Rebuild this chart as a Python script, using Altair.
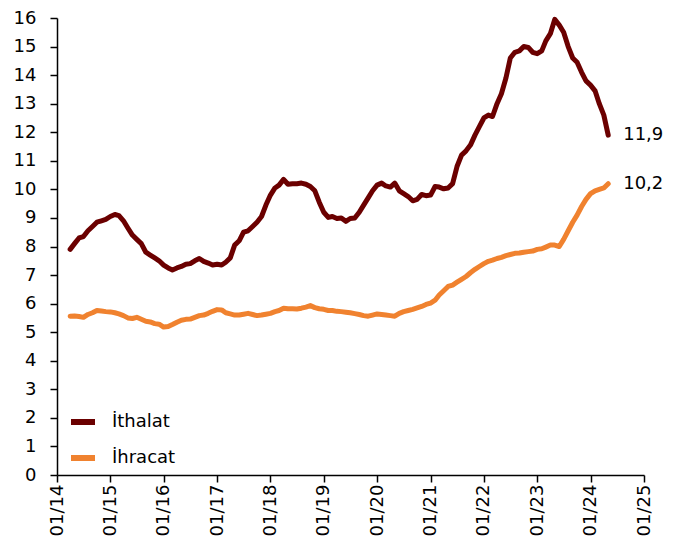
import altair as alt
import pandas as pd

start_month = "2014-04-01"

ithalat = [
    7.9, 8.1, 8.3, 8.35, 8.55, 8.7, 8.85, 8.9, 8.95,
    9.05, 9.12, 9.08, 8.9, 8.65, 8.4, 8.25, 8.1, 7.8, 7.7, 7.6, 7.5,
    7.35, 7.25, 7.18, 7.25, 7.3, 7.38, 7.4, 7.5, 7.58, 7.48, 7.42, 7.35,
    7.38, 7.35, 7.45, 7.6, 8.05, 8.2, 8.5, 8.55, 8.7, 8.85, 9.05, 9.45,
    9.8, 10.05, 10.15, 10.35, 10.18, 10.2, 10.2, 10.22, 10.18, 10.1, 9.95, 9.55,
    9.2, 9.02, 9.05, 8.98, 9.0, 8.88, 8.98, 9.0, 9.2, 9.45, 9.7, 9.95,
    10.15, 10.22, 10.12, 10.08, 10.22, 9.95, 9.85, 9.75, 9.6, 9.65, 9.82, 9.78,
    9.8, 10.1, 10.08, 10.02, 10.05, 10.2, 10.8, 11.2, 11.35, 11.55, 11.9, 12.2,
    12.5, 12.6, 12.55, 13.0, 13.35, 13.9, 14.6, 14.8, 14.85, 15.0, 14.97, 14.8,
    14.75, 14.85, 15.2, 15.45, 15.95, 15.75, 15.5, 15.0, 14.6, 14.45, 14.1, 13.8,
    13.65, 13.45, 13.0, 12.6, 11.9,
]

ihracat = [
    5.56, 5.57, 5.55, 5.52, 5.62, 5.68, 5.76, 5.74, 5.72,
    5.71, 5.68, 5.64, 5.58, 5.5, 5.48, 5.52, 5.45, 5.38, 5.36, 5.3, 5.28,
    5.18, 5.2, 5.27, 5.35, 5.42, 5.45, 5.46, 5.52, 5.58, 5.6, 5.66, 5.73,
    5.79, 5.78, 5.68, 5.64, 5.6, 5.6, 5.63, 5.66, 5.62, 5.58, 5.6, 5.63,
    5.66, 5.72, 5.76, 5.84, 5.82, 5.82, 5.81, 5.84, 5.88, 5.93, 5.86, 5.82,
    5.8, 5.76, 5.76, 5.73, 5.72, 5.7, 5.68, 5.65, 5.62, 5.58, 5.56, 5.6,
    5.64, 5.62, 5.6, 5.58, 5.56, 5.66, 5.72, 5.76, 5.8, 5.85, 5.9, 5.97,
    6.02, 6.12, 6.3, 6.45, 6.6, 6.65, 6.75, 6.85, 6.95, 7.08, 7.2, 7.3,
    7.4, 7.48, 7.52, 7.58, 7.62, 7.68, 7.72, 7.76, 7.77, 7.8, 7.82, 7.84,
    7.9, 7.92, 7.98, 8.05, 8.05, 8.0, 8.25, 8.55, 8.85, 9.1, 9.4, 9.65,
    9.85, 9.95, 10.0, 10.05, 10.2,
]

series_names = ["İthalat", "İhracat"]
series_colors = ["#6B0000", "#F0822F"]
end_labels = ["11,9", "10,2"]
year_ticks = list(range(2014, 2026))
y_ticks = list(range(0, 17))

dates = pd.date_range(start_month, periods=len(ithalat), freq="MS").strftime("%Y-%m-%dT00:00:00")

df = pd.concat([
    pd.DataFrame({"date": dates, "value": ithalat, "series": series_names[0]}),
    pd.DataFrame({"date": dates, "value": ihracat, "series": series_names[1]}),
], ignore_index=True)

last = pd.DataFrame({
    "date": [dates[-1], dates[-1]],
    "value": [ithalat[-1], ihracat[-1]],
    "series": series_names,
    "label": end_labels,
})

FONT = "DejaVu Sans"

x_enc = alt.X(
    "date:T",
    scale=alt.Scale(domain=[alt.DateTime(year=2014, month=1, date=1),
                            alt.DateTime(year=2025, month=1, date=1)]),
    axis=alt.Axis(
        values=[alt.DateTime(year=y, month=1, date=1) for y in year_ticks],
        tickCount=30,
        format="%m/%y", labelAngle=270, title=None, grid=False,
        tickSize=7, labelPadding=2, labelOverlap=False,
    ),
)
y_enc = alt.Y(
    "value:Q",
    scale=alt.Scale(domain=[0, 16], nice=False),
    axis=alt.Axis(values=y_ticks, tickCount=40, format="d", title=None, grid=False,
                  tickSize=7, labelPadding=14, labelOverlap=False),
)

color_enc = alt.Color(
    "series:N",
    scale=alt.Scale(domain=series_names, range=series_colors),
    legend=alt.Legend(
        title=None, orient="none", legendX=11, legendY=389,
        symbolType="stroke", symbolStrokeWidth=6, symbolSize=576,
        labelFontSize=18, labelFont=FONT, labelColor="#000000",
        rowPadding=9, labelOffset=14, padding=0,
    ),
)

lines = alt.Chart(df).mark_line(strokeWidth=5, strokeCap="round", strokeJoin="round").encode(
    x=x_enc, y=y_enc, color=color_enc,
)

texts = alt.Chart(last).mark_text(
    align="left", baseline="middle", dx=15, fontSize=18, font=FONT, color="#000000",
).encode(
    x=x_enc, y=y_enc, text="label:N",
)

chart = alt.layer(lines, texts).properties(
    width=587, height=457,
    autosize=alt.AutoSizeParams(type="none"),
    padding={"left": 49, "top": 10, "right": 22, "bottom": 62},
).configure_view(
    stroke=None,
).configure_axis(
    domainColor="#000000", domainWidth=1.5, tickColor="#000000", tickWidth=1.5,
    labelFont=FONT, labelFontSize=18, labelColor="#000000",
)

chart.save("out.html", embed_options={"renderer": "svg", "actions": False})
